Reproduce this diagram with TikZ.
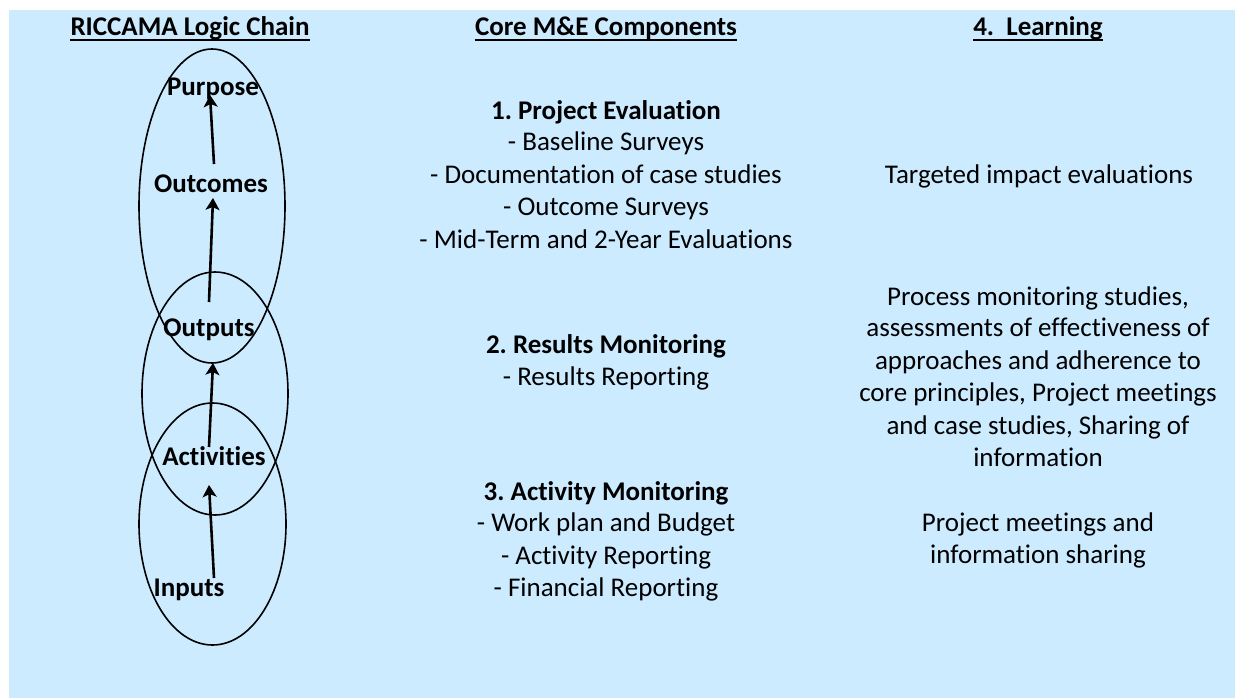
\documentclass[tikz,border=0pt]{standalone}
\usepackage{fontspec}
\setmainfont{Carlito}[Ligatures={NoCommon}]
\usetikzlibrary{shapes.geometric,arrows.meta}
\definecolor{bgblue}{RGB}{204,235,255}
\frenchspacing
\begin{document}
\begin{tikzpicture}[x=1pt,y=-1pt,
  ln/.style={anchor=base,inner sep=0pt,font=\fontsize{27}{32.4}\selectfont},
  bln/.style={ln,font=\fontsize{27}{32.4}\selectfont\bfseries},
  oval/.style={ellipse,draw,line width=1.6pt,inner sep=0pt,outer sep=0pt},
  arr/.style={line width=2.6pt,-{Stealth[length=12pt,width=14pt,inset=3pt]}},
  uline/.style={line width=2pt}]
\useasboundingbox (0,0) rectangle (1235,698);
\fill[white] (0,0) rectangle (1235,698);
\fill[bgblue] (9,10) rectangle (1235,698);
% headers
\node[bln] (h1) at (190,36) {RICCAMA Logic Chain};
\node[bln] (h2) at (606,36) {Core M\&E Components};
\node[bln] (h3) at (1038,36) {4.\ \ Learning};
\draw[uline] ([yshift=-4pt]h1.base west) -- ([yshift=-4pt]h1.base east);
\draw[uline] ([yshift=-4pt]h2.base west) -- ([yshift=-4pt]h2.base east);
\draw[uline] ([yshift=-4pt]h3.base west) -- ([yshift=-4pt]h3.base east);
% ellipses
\node[oval,minimum width=146pt,minimum height=314pt] (e1) at (212,206) {};
\node[oval,minimum width=146pt,minimum height=243pt] (e2) at (215,393.5) {};
\node[oval,minimum width=147pt,minimum height=242pt] (e3) at (212.5,524) {};
% chain labels
\node[bln] (purpose) at (213,96) {Purpose};
\node[bln] (outcomes) at (211,193) {Outcomes};
\node[bln] (outputs) at (209,336) {Outputs};
\node[bln] (activities) at (214,465) {Activities};
\node[bln] (inputs) at (189,596) {Inputs};
% arrows
\coordinate (a1s) at (214,164); \coordinate (a1e) at (210,95);
\coordinate (a2s) at (209,302); \coordinate (a2e) at (213,198);
\coordinate (a3s) at (209,447); \coordinate (a3e) at (213,363);
\coordinate (a4s) at (214,578); \coordinate (a4e) at (209,485);
\draw[arr] (a1s) -- (a1e);
\draw[arr] (a2s) -- (a2e);
\draw[arr] (a3s) -- (a3e);
\draw[arr] (a4s) -- (a4e);
% centre column
\node[bln] (c1) at (606,120) {1. Project Evaluation};
\node[ln] (c1a) at (606,151) {- Baseline Surveys};
\node[ln] (c1b) at (606,183) {- Documentation of case studies};
\node[ln] (c1c) at (606,215) {- Outcome Surveys};
\node[ln] (c1d) at (606,248) {- Mid-Term and 2-Year Evaluations};
\node[bln] (c2) at (606,353) {2. Results Monitoring};
\node[ln] (c2a) at (606,385) {- Results Reporting};
\node[bln] (c3) at (606,500) {3. Activity Monitoring};
\node[ln] (c3a) at (606,531) {- Work plan and Budget};
\node[ln] (c3b) at (606,564) {- Activity Reporting};
\node[ln] (c3c) at (606,596) {- Financial Reporting};
% right column
\node[ln] (r1) at (1039,183) {Targeted impact evaluations};
\node[ln] (r2a) at (1038,305) {Process monitoring studies,};
\node[ln] (r2b) at (1038,336) {assessments of effectiveness of};
\node[ln] (r2c) at (1038,369) {approaches and adherence to};
\node[ln] (r2d) at (1038,401) {core principles, Project meetings};
\node[ln] (r2e) at (1038,434) {and case studies, Sharing of};
\node[ln] (r2f) at (1038,466) {information};
\node[ln] (r3a) at (1038,531) {Project meetings and};
\node[ln] (r3b) at (1038,563) {information sharing};
\end{tikzpicture}
\end{document}
